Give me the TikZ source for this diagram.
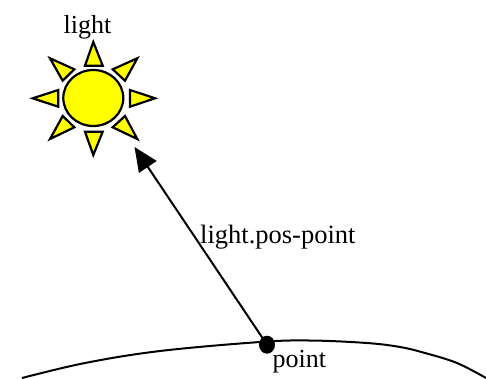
\documentclass[tikz,border=0pt]{standalone}
\usepackage{fontspec}
\setmainfont{Liberation Serif}
\usetikzlibrary{arrows.meta,shapes.geometric}
\definecolor{sunyellow}{RGB}{255,255,0}
\tikzset{
  ray/.style={draw=black,fill=sunyellow,line width=2.2pt,miter limit=10},
  lbl/.style={inner sep=0pt,font=\fontsize{26}{28}\selectfont,text=black},
}
\begin{document}
\begin{tikzpicture}[x=1pt,y=-1pt]
\useasboundingbox (0,0) rectangle (486,378);
% surface
\begin{scope}
\clip (0,0) rectangle (486,378);
\draw[line width=2pt] plot[smooth,tension=0.6] coordinates {(22,378) (85,363) (160,351) (260,342) (310,340.5) (367,343) (400,347) (425,353) (457,363) (486,378)};
\end{scope}
% sun
\node[draw=black,fill=sunyellow,line width=2.2pt,ellipse,minimum width=60pt,minimum height=56pt,inner sep=0pt] (sun) at (93.3,98) {};
\draw[ray] (93.3,42) -- (85,65.7) -- (102.7,65.7) -- cycle;
\draw[ray] (93.3,155) -- (85,131.7) -- (102.7,131.7) -- cycle;
\draw[ray] (155,98.3) -- (130,90) -- (130,106.7) -- cycle;
\draw[ray] (32.7,98.3) -- (58.3,90) -- (58.3,106.7) -- cycle;
\draw[ray] (137.3,58.3) -- (112.7,69.3) -- (125,80.7) -- cycle;
\draw[ray] (50,58.3) -- (74.3,69.3) -- (62.7,80.7) -- cycle;
\draw[ray] (50,139) -- (62.7,116) -- (74.3,127.3) -- cycle;
\draw[ray] (137.3,139) -- (125,116) -- (112.7,127.3) -- cycle;
% point and vector
\node[fill=black,ellipse,minimum width=16pt,minimum height=18pt,inner sep=0pt] (pt) at (267,344.7) {};
\coordinate (tip) at (134.5,147);
\draw[line width=2pt,-{Triangle[length=24pt,width=21pt]}] (pt.center) -- (tip);
% labels
\node[lbl,anchor=base] (lightlbl) at (87.5,33) {light};
\node[lbl,anchor=base west,font=\fontsize{26.5}{28}\selectfont] (veclbl) at (200,243) {light.pos-point};
\node[lbl,anchor=base west] (ptlbl) at (272.5,367) {point};
\end{tikzpicture}
\end{document}
